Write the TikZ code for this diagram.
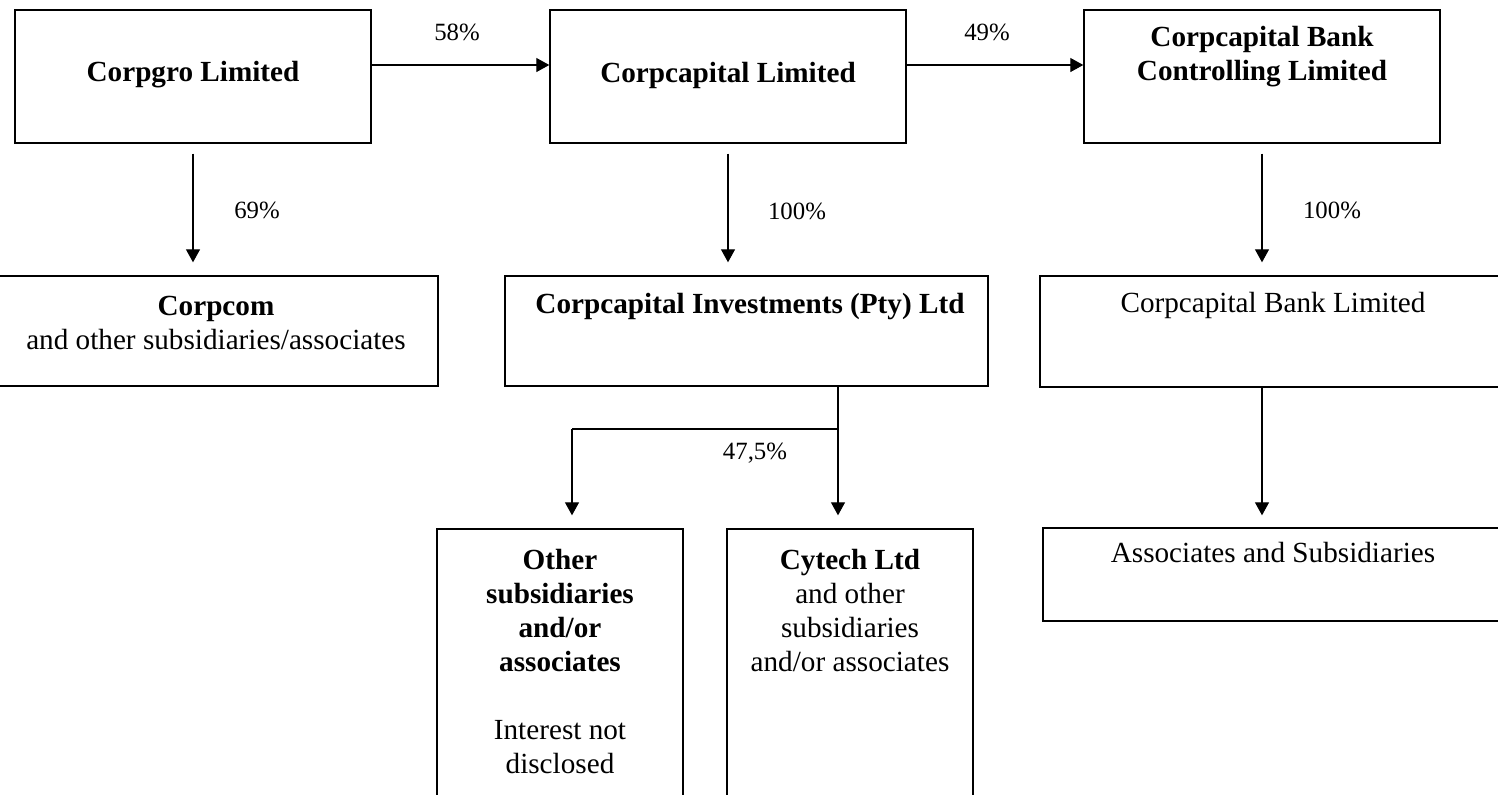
\documentclass[tikz,border=0pt]{standalone}
\usepackage{fontspec}
\setmainfont{Liberation Serif}
\usetikzlibrary{arrows.meta}

\begin{document}
\begin{tikzpicture}[x=0.5pt, y=-0.5pt,
		box/.style={draw, line width=0.7pt, inner sep=0pt},
		boxtext/.style={font=\fontsize{14.6}{17}\selectfont, align=center, inner sep=0pt},
		pct/.style={font=\fontsize{12.4}{15}\selectfont, inner sep=0pt},
		link/.style={line width=0.6pt, -{Triangle[width=7pt,length=6.5pt]}}]
		\useasboundingbox (0,0) rectangle (1498,794);
		
		% boxes
		\node[box, minimum width=178pt, minimum height=66.5pt] (corpgro) at (193, 76.5) {};
		\node[box, minimum width=178pt, minimum height=66.5pt] (corpcap) at (728, 76.5) {};
		\node[box, minimum width=178pt, minimum height=66.5pt] (bankctl) at (1262, 76.5) {};
		
		\node[box, minimum width=221pt, minimum height=55pt] (corpcom) at (217, 331) {};
		\node[box, minimum width=241.5pt, minimum height=55pt] (invest) at (746.5, 331) {};
		\node[box, minimum width=235pt, minimum height=55.5pt] (banklim) at (1275, 331.5) {};
		
		\node[box, minimum width=123pt, minimum height=145.5pt] (other) at (560, 674.5) {};
		\node[box, minimum width=123pt, minimum height=145.5pt] (cytech) at (850, 674.5) {};
		\node[box, minimum width=233.5pt, minimum height=46.5pt] (assoc) at (1276.5, 574.5) {};
		
		% texts
		\node[boxtext] (corpgro-t) at (193, 75) {\textbf{Corpgro Limited}};
		\node[boxtext] (corpcap-t) at (728, 75) {\textbf{Corpcapital Limited}};
		\node[boxtext] (bankctl-t) at (1262, 57) {\textbf{Corpcapital Bank}\\\textbf{Controlling Limited}};
		\node[boxtext] (corpcom-t) at (216, 323) {\textbf{Corpcom}\\and other subsidiaries/associates};
		\node[boxtext] (invest-t) at (750, 307) {\textbf{Corpcapital Investments (Pty) Ltd}};
		\node[boxtext] (banklim-t) at (1273, 305) {Corpcapital Bank Limited};
		\node[boxtext] (assoc-t) at (1273, 552) {Associates and Subsidiaries};
		\node[boxtext] (other-t) at (560, 661) {\textbf{Other}\\\textbf{subsidiaries}\\\textbf{and/or}\\\textbf{associates}\\[17pt]Interest not\\disclosed};
		\node[boxtext] (cytech-t) at (850, 610) {\textbf{Cytech Ltd}\\and other\\subsidiaries\\and/or associates};
		
		% percentages
		\node[pct] (p58) at (457, 32) {58\%};
		\node[pct] (p49) at (987, 32) {49\%};
		\node[pct] (p69) at (257, 210) {69\%};
		\node[pct] (p100a) at (797, 211) {100\%};
		\node[pct] (p100b) at (1332, 210) {100\%};
		\node[pct] (p475) at (755, 453) {47,5\%};
		
		% connectors
		\draw[link] ([yshift=5.75pt]corpgro.east) -- ([yshift=5.75pt]corpcap.west);
		\draw[link] ([yshift=5.75pt]corpcap.east) -- ([yshift=5.75pt]bankctl.west);
		
		\draw[link, shorten <=5pt, shorten >=6.5pt] (corpgro.south) -- (corpgro.south |- corpcom.north);
		\draw[link, shorten <=5pt, shorten >=6.5pt] (corpcap.south) -- (corpcap.south |- invest.north);
		\draw[link, shorten <=5pt, shorten >=6.5pt] (bankctl.south) -- (bankctl.south |- banklim.north);
		
		\coordinate (split) at (838, 429);
		\coordinate (turn) at (572, 429);
		\draw[line width=0.6pt] (split |- invest.south) -- (split) -- (turn);
		\draw[link, shorten >=6.5pt] (turn) -- (turn |- other.north);
		\draw[link, shorten >=6.5pt] (split) -- (split |- cytech.north);
		
		\draw[link, shorten >=6pt] (bankctl.south |- banklim.south) -- (bankctl.south |- assoc.north);
	\end{tikzpicture}
\end{document}
